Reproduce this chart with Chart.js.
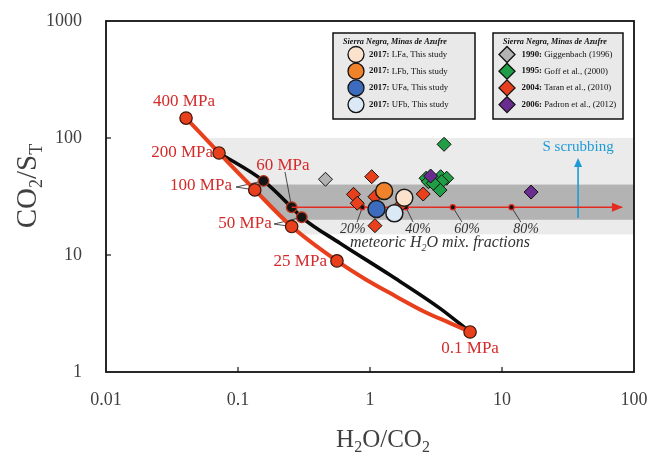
<!DOCTYPE html>
<html><head><meta charset="utf-8">
<script src="https://cdn.jsdelivr.net/npm/chart.js@4"></script>
<style>html,body{margin:0;padding:0;background:#fff}#wrap{width:649px;height:459px}</style>
</head><body><div id="wrap"><canvas id="c" width="649" height="459"></canvas></div>
<script>
// ---- axis ticks ----
const xTicks = [0.01, 0.1, 1, 10, 100];
const xTickLabels = ['0.01', '0.1', '1', '10', '100'];
const yTicks = [1, 10, 100, 1000];
const yTickLabels = ['1', '10', '100', '1000'];

// ---- model curves (H2O/CO2, CO2/ST) ----
const redCurveX = [0.0404, 0.0718, 0.134, 0.255, 0.562, 0.916, 1.55, 2.61, 4.04, 5.73];
const redCurveY = [148, 74.5, 36, 17.5, 8.9, 6.24, 4.47, 3.26, 2.62, 2.2];
const redCurveMarked = [1, 1, 1, 1, 1, 0, 0, 0, 0, 1];
const blackCurveX = [0.0718, 0.156, 0.255, 0.304, 0.593, 1.42, 3.39, 5.73];
const blackCurveY = [74.5, 43, 25.6, 21, 12.6, 6.74, 3.5, 2.2];
const blackCurveMarked = [0, 1, 1, 1, 0, 0, 0, 0];

// pressure labels
const pressureLabels = ['400 MPa', '200 MPa', '100 MPa', '60 MPa', '50 MPa', '25 MPa', '0.1 MPa'];
const pressureLabelX = [0.039, 0.0647, 0.090, 0.219, 0.18, 0.472, 5.73];
const pressureLabelY = [203, 74.5, 38.9, 57.7, 18.7, 8.77, 1.6];
const pressureLabelAlign = ['center', 'right', 'right', 'center', 'right', 'right', 'center'];

// leader lines [fromX, fromY, toX, toY]
const leaderFromX = [0.0966, 0.0966, 0.227, 0.1876, 0.1876, 0.798, 2.12, 4.98, 13.9];
const leaderFromY = [38.1, 38.1, 51.2, 18.4, 18.4, 19.1, 19.1, 19.1, 19.1];
const leaderToX = [0.134, 0.156, 0.255, 0.255, 0.304, 0.875, 1.87, 4.24, 11.8];
const leaderToY = [36, 43, 25.6, 17.5, 21, 25.6, 25.6, 25.6, 25.6];

// meteoric mixing line
const mixLineX = [0.255, 81];
const mixLineY = [25.6, 25.6];
const mixFracX = [0.875, 1.87, 4.24, 11.8];
const mixFracLabels = ['20%', '40%', '60%', '80%'];
const mixFracLabelX = [0.74, 2.31, 5.43, 15.2];
const mixFracLabelY = 16.7;

// shaded bands (left edge clipped by the red model curve)
const bandLightX = [0.04, 100], bandLightY = [15, 100];
const bandDarkX = [0.04, 100], bandDarkY = [20, 40];

// S scrubbing arrow
const scrubX = 37.7, scrubY = [20.7, 67.5], scrubLabelY = 83.8;

// ---- observations ----
const gigX = [0.46], gigY = [44.4];
const goffX = [3.64, 2.66, 2.77, 3.43, 3.81, 3.49, 3.39, 3.02];
const goffY = [88.3, 45.3, 42.3, 46.7, 45.3, 42.3, 35.9, 41.0];
const taranX = [1.03, 0.75, 0.80, 1.09, 2.53, 1.69, 1.09];
const taranY = [46.7, 33.0, 27.7, 31.5, 33.2, 26.4, 17.8];
const padronX = [2.88, 16.6];
const padronY = [47.3, 34.5];
const lfaX = [1.82], lfaY = [30.9];
const lfbX = [1.28], lfbY = [35.2];
const ufaX = [1.12], ufaY = [24.7];
const ufbX = [1.53], ufbY = [22.7];

const legend1 = ['LFa, This study', 'LFb, This study', 'UFa, This study', 'UFb, This study'];
const legend1Year = ['2017:', '2017:', '2017:', '2017:'];
const legend1Colors = ['#fbe2cc', '#f0822a', '#3d6bbd', '#dbe9f7'];
const legend2 = ['Giggenbach (1996)', 'Goff et al., (2000)', 'Taran et al., (2010)', 'Padron et al., (2012)'];
const legend2Year = ['1990:', '1995:', '2004:', '2006:'];
const legend2Colors = ['#b3b3b3', '#1f9e45', '#e8401c', '#6a2c8f'];

const pts = (xs, ys) => xs.map((x, i) => ({ x: x, y: Array.isArray(ys) ? ys[i] : ys }));

const SERIF = '"Liberation Serif", "DejaVu Serif", serif';
const RED_TXT = '#d42a2a';
const RED_CURVE_INDEX = 10;

function drawRich(ctx, parts, x, y, size, align, color) {
  const subSize = Math.round(size * 0.62);
  let w = 0;
  parts.forEach(p => { ctx.font = (p.st || '') + ' ' + (p.s ? subSize : size) + 'px ' + SERIF; w += ctx.measureText(p.t).width; });
  let cx = align === 'center' ? x - w / 2 : align === 'right' ? x - w : x;
  ctx.textBaseline = 'middle'; ctx.textAlign = 'left'; ctx.fillStyle = color;
  parts.forEach(p => {
    ctx.font = (p.st || '') + ' ' + (p.s ? subSize : size) + 'px ' + SERIF;
    ctx.fillText(p.t, cx, y + (p.s ? size * 0.32 : 0));
    cx += ctx.measureText(p.t).width;
  });
  return w;
}

const zeroPad = s => { s.paddingTop = 0; s.paddingBottom = 0; s.paddingLeft = 0; s.paddingRight = 0; };

const decor = {
  id: 'decor',
  beforeDatasetsDraw(chart) {
    const { ctx, scales: { x, y }, chartArea: a } = chart;
    ctx.save();
    // clip to the region right of the red model curve
    const cp = chart.getDatasetMeta(RED_CURVE_INDEX).data;
    ctx.beginPath();
    ctx.moveTo(cp[0].x, a.top);
    cp.forEach(p => ctx.lineTo(p.x, p.y));
    ctx.lineTo(cp[cp.length - 1].x, a.bottom);
    ctx.lineTo(a.right, a.bottom); ctx.lineTo(a.right, a.top); ctx.closePath();
    ctx.clip();
    ctx.fillStyle = '#ebebeb';
    let x0 = x.getPixelForValue(bandLightX[0]), x1 = x.getPixelForValue(bandLightX[1]);
    let y0 = y.getPixelForValue(bandLightY[1]), y1 = y.getPixelForValue(bandLightY[0]);
    ctx.fillRect(x0, y0, x1 - x0, y1 - y0);
    ctx.fillStyle = '#b3b3b3';
    x0 = x.getPixelForValue(bandDarkX[0]); x1 = x.getPixelForValue(bandDarkX[1]);
    y0 = y.getPixelForValue(bandDarkY[1]); y1 = y.getPixelForValue(bandDarkY[0]);
    ctx.fillRect(x0, y0, x1 - x0, y1 - y0);
    ctx.restore();
    ctx.save();
    // leader lines
    ctx.strokeStyle = '#222'; ctx.lineWidth = 0.8;
    for (let i = 0; i < leaderFromX.length; i++) {
      ctx.beginPath();
      ctx.moveTo(x.getPixelForValue(leaderFromX[i]), y.getPixelForValue(leaderFromY[i]));
      ctx.lineTo(x.getPixelForValue(leaderToX[i]), y.getPixelForValue(leaderToY[i]));
      ctx.stroke();
    }
    // S scrubbing arrow
    const sx = x.getPixelForValue(scrubX), sy0 = y.getPixelForValue(scrubY[0]), sy1 = y.getPixelForValue(scrubY[1]);
    ctx.strokeStyle = '#1e9bd7'; ctx.fillStyle = '#1e9bd7'; ctx.lineWidth = 1.6;
    ctx.beginPath(); ctx.moveTo(sx, sy0); ctx.lineTo(sx, sy1 + 6); ctx.stroke();
    ctx.beginPath(); ctx.moveTo(sx, sy1); ctx.lineTo(sx - 4, sy1 + 9); ctx.lineTo(sx + 4, sy1 + 9); ctx.closePath(); ctx.fill();
    ctx.restore();
  },
  afterDatasetsDraw(chart) {
    const { ctx, scales: { x, y }, chartArea: a } = chart;
    ctx.save();
    // mixing line arrow head
    const ax = x.getPixelForValue(mixLineX[1]), ay = y.getPixelForValue(mixLineY[1]);
    ctx.fillStyle = '#e32b20';
    ctx.beginPath(); ctx.moveTo(ax + 1, ay); ctx.lineTo(ax - 10, ay - 4.5); ctx.lineTo(ax - 10, ay + 4.5); ctx.closePath(); ctx.fill();
    // pressure labels
    for (let i = 0; i < pressureLabels.length; i++) {
      ctx.font = '17px ' + SERIF; ctx.fillStyle = RED_TXT; ctx.textBaseline = 'middle';
      ctx.textAlign = pressureLabelAlign[i];
      ctx.fillText(pressureLabels[i], x.getPixelForValue(pressureLabelX[i]), y.getPixelForValue(pressureLabelY[i]));
    }
    // fraction labels
    ctx.font = 'italic 14px ' + SERIF; ctx.fillStyle = '#333'; ctx.textAlign = 'center';
    for (let i = 0; i < mixFracLabels.length; i++) {
      ctx.fillText(mixFracLabels[i], x.getPixelForValue(mixFracLabelX[i]), y.getPixelForValue(mixFracLabelY));
    }
    drawRich(ctx, [{ t: 'meteoric H', st: 'italic' }, { t: '2', s: 1, st: 'italic' }, { t: 'O mix. fractions', st: 'italic' }],
      x.getPixelForValue(3.39), y.getPixelForValue(12.7), 16, 'center', '#333');
    // S scrubbing label
    ctx.font = '15px ' + SERIF; ctx.fillStyle = '#1e9bd7'; ctx.textAlign = 'center'; ctx.textBaseline = 'middle';
    ctx.fillText('S scrubbing', x.getPixelForValue(scrubX), y.getPixelForValue(scrubLabelY));
    ctx.restore();
  },
  afterDraw(chart) {
    const { ctx, scales: { x, y }, chartArea: a } = chart;
    ctx.save();
    // frame
    ctx.strokeStyle = '#111'; ctx.lineWidth = 1.8;
    ctx.strokeRect(a.left, a.top, a.right - a.left, a.bottom - a.top);
    // inner ticks
    ctx.lineWidth = 1.2;
    xTicks.slice(1, -1).forEach(v => { const px = x.getPixelForValue(v); ctx.beginPath(); ctx.moveTo(px, a.bottom); ctx.lineTo(px, a.bottom - 5); ctx.stroke(); });
    yTicks.slice(1, -1).forEach(v => { const py = y.getPixelForValue(v); ctx.beginPath(); ctx.moveTo(a.left, py); ctx.lineTo(a.left + 5, py); ctx.stroke(); });
    // axis titles
    drawRich(ctx, [{ t: 'H' }, { t: '2', s: 1 }, { t: 'O/CO' }, { t: '2', s: 1 }], 383, 440, 25, 'center', '#404040');
    ctx.save(); ctx.translate(28, 186); ctx.rotate(-Math.PI / 2);
    drawRich(ctx, [{ t: 'CO' }, { t: '2', s: 1 }, { t: '/S' }, { t: 'T', s: 1 }], 0, 0, 29, 'center', '#404040');
    ctx.restore();
    // legends
    function legendBox(bx, by, bw, bh, names, years, colors, shape) {
      ctx.fillStyle = '#e9e9e9'; ctx.fillRect(bx, by, bw, bh);
      ctx.strokeStyle = '#111'; ctx.lineWidth = 1.5; ctx.strokeRect(bx, by, bw, bh);
      ctx.font = 'bold italic 8.2px ' + SERIF; ctx.fillStyle = '#111'; ctx.textAlign = 'left'; ctx.textBaseline = 'middle';
      ctx.fillText('Sierra Negra, Minas de Azufre', bx + 10, by + 9);
      for (let i = 0; i < names.length; i++) {
        const cy = by + 21.5 + i * 16.7, cx = bx + (shape === 'circle' ? 23 : 14);
        ctx.beginPath();
        if (shape === 'circle') { ctx.arc(cx, cy, 8, 0, Math.PI * 2); }
        else { ctx.moveTo(cx - 8, cy); ctx.lineTo(cx, cy - 8); ctx.lineTo(cx + 8, cy); ctx.lineTo(cx, cy + 8); ctx.closePath(); }
        ctx.fillStyle = colors[i]; ctx.fill(); ctx.strokeStyle = '#111'; ctx.lineWidth = 1.3; ctx.stroke();
        ctx.fillStyle = '#111';
        ctx.font = 'bold 8.8px ' + SERIF; ctx.textAlign = 'left';
        const tx = bx + (shape === 'circle' ? 36 : 28.5);
        ctx.fillText(years[i], tx, cy);
        const w = ctx.measureText(years[i] + ' ').width;
        ctx.font = '8.8px ' + SERIF;
        ctx.fillText(names[i], tx + w, cy);
      }
    }
    legendBox(333, 33, 142, 86, legend1, legend1Year, legend1Colors, 'circle');
    legendBox(493, 33, 130, 86, legend2, legend2Year, legend2Colors, 'diamond');
    ctx.restore();
  }
};

const diamond = (label, xs, ys, color, order) => ({
  label, data: pts(xs, ys), pointStyle: 'rectRot', pointRadius: 7, pointBackgroundColor: color,
  pointBorderColor: '#111', pointBorderWidth: 1, showLine: false, order
});
const circle = (label, xs, ys, color, order) => ({
  label, data: pts(xs, ys), pointStyle: 'circle', pointRadius: 8.5, pointBackgroundColor: color,
  pointBorderColor: '#1a1a1a', pointBorderWidth: 1.5, showLine: false, order
});

new Chart(document.getElementById('c'), {
  type: 'scatter',
  data: {
    datasets: [
      circle('LFa', lfaX, lfaY, legend1Colors[0], 0),
      circle('LFb', lfbX, lfbY, legend1Colors[1], 0),
      circle('UFa', ufaX, ufaY, legend1Colors[2], 0),
      circle('UFb', ufbX, ufbY, legend1Colors[3], 0),
      diamond('Padron', padronX, padronY, legend2Colors[3], 1),
      diamond('Taran', taranX, taranY, legend2Colors[2], 2),
      diamond('Goff', goffX, goffY, legend2Colors[1], 3),
      diamond('Giggenbach', gigX, gigY, legend2Colors[0], 4),
      { label: 'fractions', data: pts(mixFracX, mixLineY[0]), pointRadius: 2.6, pointBackgroundColor: '#111',
        pointBorderColor: '#e32b20', pointBorderWidth: 1.2, showLine: false, order: 5 },
      { label: 'mixing', data: pts(mixLineX, mixLineY), showLine: true, borderColor: '#e32b20', borderWidth: 1.5,
        pointRadius: 0, order: 6 },
      { label: 'red model', data: pts(redCurveX, redCurveY), showLine: true, borderColor: '#e8401c', borderWidth: 4,
        cubicInterpolationMode: 'monotone',
        pointRadius: redCurveMarked.map(m => m ? 6.2 : 0), pointBackgroundColor: '#e8401c',
        pointBorderColor: '#3a1408', pointBorderWidth: 1.2, order: 7 },
      { label: 'black model', data: pts(blackCurveX, blackCurveY), showLine: true, borderColor: '#0a0a0a', borderWidth: 3.6,
        cubicInterpolationMode: 'monotone',
        pointRadius: blackCurveMarked.map(m => m ? 5.3 : 0), pointBackgroundColor: '#151515',
        pointBorderColor: '#b8361a', pointBorderWidth: 1.3, order: 8 }
    ]
  },
  options: {
    responsive: false, animation: false, events: [],
    layout: { padding: { top: 21, right: 15, left: 0, bottom: 0 } },
    plugins: { legend: { display: false }, tooltip: { enabled: false } },
    scales: {
      x: {
        type: 'logarithmic', min: 0.01, max: 100,
        afterBuildTicks: s => { s.ticks = xTicks.map(v => ({ value: v })); },
        afterFit: s => { s.height = 459 - 372; zeroPad(s); },
        grid: { display: false, drawTicks: false }, border: { display: false },
        ticks: { autoSkip: false, maxRotation: 0, padding: 17, color: '#404040', font: { family: SERIF, size: 18 },
          callback: (v, i) => xTickLabels[i] }
      },
      y: {
        type: 'logarithmic', min: 1, max: 1000,
        afterBuildTicks: s => { s.ticks = yTicks.map(v => ({ value: v })); },
        afterFit: s => { s.width = 106; zeroPad(s); },
        grid: { display: false, drawTicks: false }, border: { display: false },
        ticks: { autoSkip: false, padding: 24, color: '#404040', font: { family: SERIF, size: 18 },
          callback: (v, i) => yTickLabels[i] }
      }
    }
  },
  plugins: [decor]
});
</script></body></html>
